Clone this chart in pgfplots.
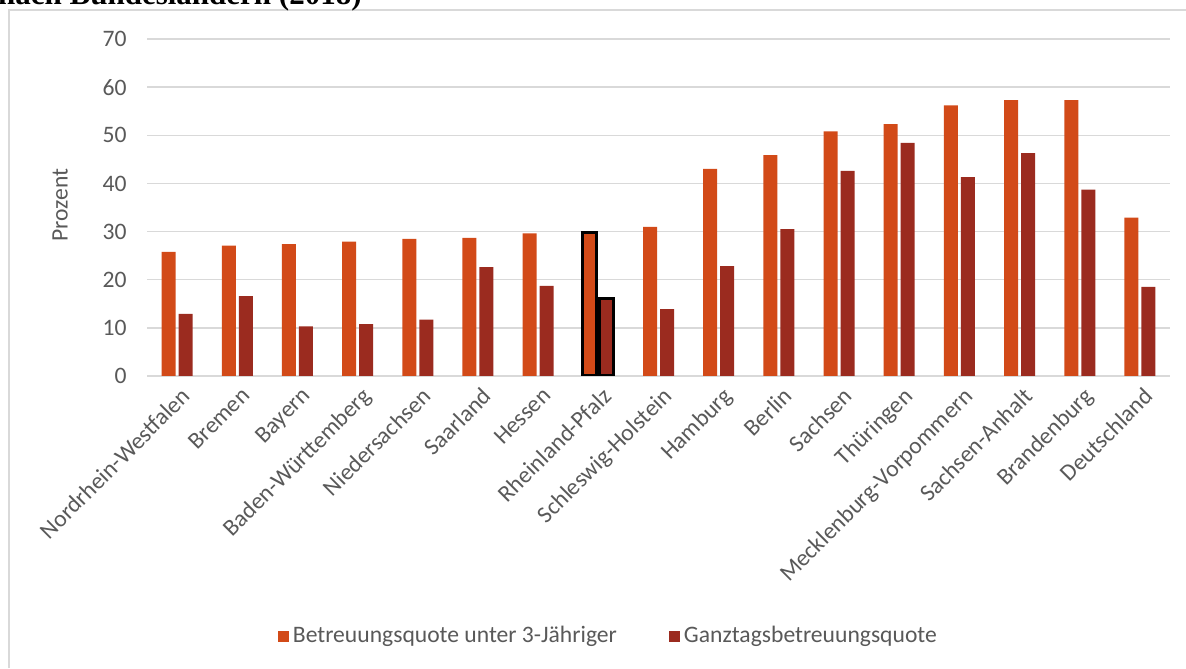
\documentclass[border=0pt]{standalone}
\usepackage{pgfplots}
\pgfplotsset{compat=1.18}
\usepackage{pgfplotstable}
\usepackage{fontspec}
\setmainfont{Carlito}
\newfontfamily\titlefont{Liberation Serif}
\definecolor{orng}{RGB}{210,74,24}
\definecolor{dred}{RGB}{155,43,31}
\definecolor{txt}{RGB}{89,89,89}
\definecolor{grd}{RGB}{217,217,217}

\pgfplotstableread{
idx quote ganztag
0  25.8 12.9
1  27.1 16.6
2  27.4 10.3
3  27.9 10.8
4  28.5 11.7
5  28.7 22.6
6  29.6 18.7
7  29.8 16.0
8  31.0 13.9
9  43.0 22.8
10 45.9 30.5
11 50.8 42.6
12 52.3 48.4
13 56.2 41.3
14 57.3 46.3
15 57.3 38.7
16 32.9 18.5
}\datatable

\pgfplotstableread{
idx quote ganztag
7  29.8 16.0
}\rptable

\begin{document}
\begin{tikzpicture}
\useasboundingbox (0pt,0pt) rectangle (593pt,334pt);
\draw[grd, line width=1pt] (4.25pt,0pt) -- (4.25pt,328.75pt) -- (593pt,328.75pt);
\node[overlay, anchor=base east, inner sep=0pt, font=\titlefont\bfseries\fontsize{15.5}{18}\selectfont] at (181pt,331.5pt) {nach Bundesländern (2018)};
\begin{axis}[
  at={(73.5pt,146pt)}, anchor=south west,
  scale only axis, width=511.5pt, height=168.5pt,
  ybar=0pt, bar width=7pt,
  xmin=-0.5, xmax=16.5, ymin=0, ymax=70,
  ytick={0,10,...,70},
  xtick={0,...,16},
  xticklabels={Nordrhein-Westfalen,Bremen,Bayern,Baden-Württemberg,Niedersachsen,Saarland,Hessen,Rheinland-Pfalz,Schleswig-Holstein,Hamburg,Berlin,Sachsen,Thüringen,Mecklenburg-Vorpommern,Sachsen-Anhalt,Brandenburg,Deutschland},
  /pgf/number format/assume math mode=true,
  major tick length=0pt,
  axis line style={draw=none},
  ymajorgrids, grid style={grd, line width=0.7pt},
  tick label style={font=\fontsize{11.8}{13.5}\selectfont, text=txt},
  yticklabel style={anchor=east, inner sep=0pt, xshift=-10pt},
  xticklabel style={xshift=1.5pt, yshift=-3.5pt, rotate=45, anchor=north east, inner sep=1pt},
  ylabel={Prozent},
  ylabel style={at={(axis description cs:-0.085,0.507)}, anchor=center, font=\fontsize{11.8}{13.5}\selectfont, text=txt},
  legend style={at={(axis description cs:0.452,-0.772)}, anchor=center, draw=none,
    legend columns=2, font=\fontsize{11.8}{13.5}\selectfont, text=txt,
    /tikz/every even column/.append style={column sep=24pt}},
  legend image code/.code={\fill[#1] (0pt,-2.75pt) rectangle (5.5pt,2.75pt);},
]
\addplot[fill=orng, draw=none, bar shift=-4.25pt] table[x=idx, y=quote] {\datatable};
\addlegendentry{Betreuungsquote unter 3-Jähriger}
\addplot[fill=dred, draw=none, bar shift=4.25pt] table[x=idx, y=ganztag] {\datatable};
\addlegendentry{Ganztagsbetreuungsquote}
\addplot[fill=orng, draw=black, line width=1.5pt, bar shift=-4.25pt, forget plot] table[x=idx, y=quote] {\rptable};
\addplot[fill=dred, draw=black, line width=1.5pt, bar shift=4.25pt, forget plot] table[x=idx, y=ganztag] {\rptable};
\end{axis}
\end{tikzpicture}
\end{document}
